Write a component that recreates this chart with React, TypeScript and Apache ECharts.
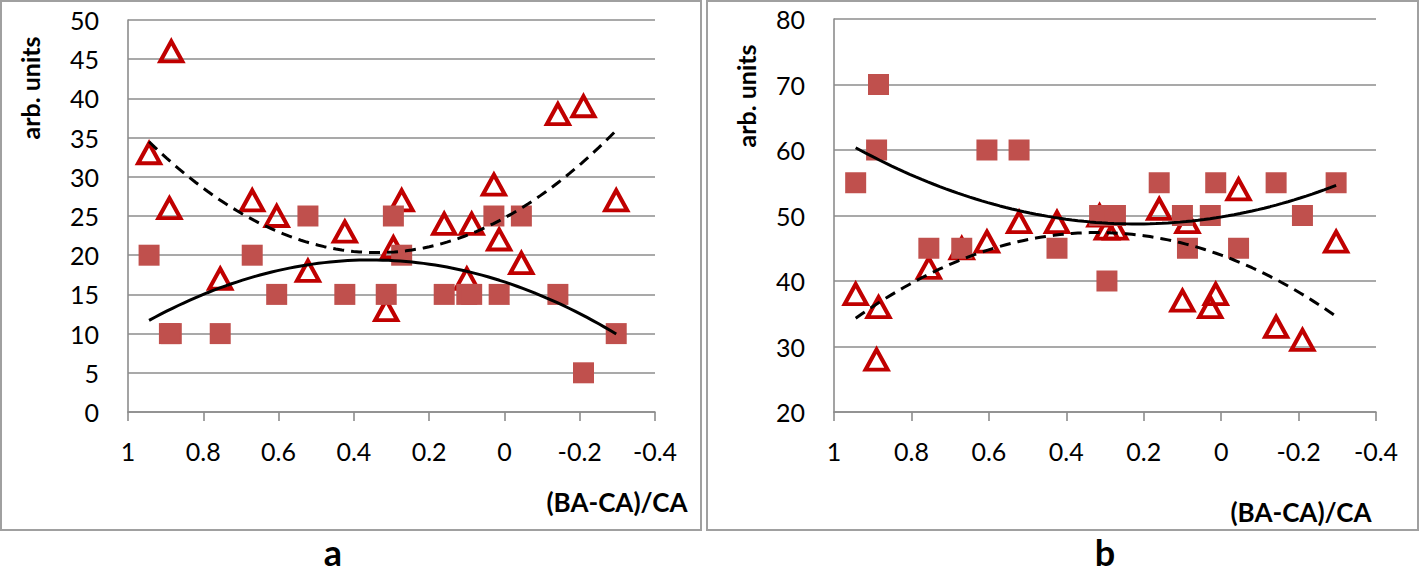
import React, { useEffect, useRef } from "react";
import * as echarts from "echarts";

// shared x values (BA-CA)/CA
const X = [0.944, 0.885, 0.89, 0.755, 0.67, 0.605, 0.522, 0.424, 0.314, 0.295, 0.273, 0.16, 0.1, 0.087, 0.028, 0.014, -0.045, -0.142, -0.21, -0.297];
// panel a
const aSquares = [20, 10, 10, 10, 20, 15, 25, 15, 15, 25, 20, 15, 15, 15, 25, 15, 25, 15, 5, 10];
const aTriangles = [33, 46, 26, 17, 27, 25, 18, 23, 13, 21, 27, 24, 17, 24, 29, 22, 19, 38, 39, 27];
// panel b
const bSquares = [55, 70, 60, 45, 45, 60, 60, 45, 50, 40, 50, 55, 50, 45, 50, 55, 45, 55, 50, 55];
const bTriangles = [38, 36, 28, 42, 45, 46, 49, 49, 50, 48, 48, 51, 37, 49, 36, 38, 54, 33, 31, 46];

const xTicks = { min: -0.4, max: 1, interval: 0.2 };
const yA = { min: 0, max: 50, interval: 5 };
const yB = { min: 20, max: 80, interval: 10 };

const FONT = "Lato";
const GRAY = "#8c8c8c";

// quadratic least-squares trendline (like Excel polynomial order 2)
function polyfit2(xs: number[], ys: number[]) {
  const n = xs.length;
  const s = [0, 0, 0, 0, 0];
  const t = [0, 0, 0];
  for (let i = 0; i < n; i++) {
    const x = xs[i];
    const y = ys[i];
    let p = 1;
    for (let k = 0; k < 5; k++) {
      s[k] += p;
      if (k < 3) t[k] += p * y;
      p *= x;
    }
  }
  const M = [
    [s[0], s[1], s[2], t[0]],
    [s[1], s[2], s[3], t[1]],
    [s[2], s[3], s[4], t[2]],
  ];
  for (let i = 0; i < 3; i++) {
    let piv = i;
    for (let r = i + 1; r < 3; r++) if (Math.abs(M[r][i]) > Math.abs(M[piv][i])) piv = r;
    [M[i], M[piv]] = [M[piv], M[i]];
    for (let r = 0; r < 3; r++) {
      if (r === i) continue;
      const f = M[r][i] / M[i][i];
      for (let c = i; c < 4; c++) M[r][c] -= f * M[i][c];
    }
  }
  return [M[0][3] / M[0][0], M[1][3] / M[1][1], M[2][3] / M[2][2]];
}

function trend(xs: number[], ys: number[]) {
  const [c0, c1, c2] = polyfit2(xs, ys);
  const lo = Math.min(...xs);
  const hi = Math.max(...xs);
  const pts: number[][] = [];
  const N = 80;
  for (let i = 0; i <= N; i++) {
    const x = hi - ((hi - lo) * i) / N;
    pts.push([x, c0 + c1 * x + c2 * x * x]);
  }
  return pts;
}

const pairs = (ys: number[]) => X.map((x, i) => [x, ys[i]]);

export default function App() {
  const ref = useRef<HTMLDivElement>(null);
  useEffect(() => {
    document.body.style.margin = "0";
    const chart = echarts.init(ref.current!, undefined, { renderer: "svg" });

    const xAxisBase = (gridIndex: number) => ({
      type: "value",
      gridIndex,
      inverse: true,
      ...xTicks,
      axisLine: { show: true, onZero: false, lineStyle: { color: GRAY, width: 1.6 } },
      axisTick: { show: true, length: 9, lineStyle: { color: GRAY, width: 1.6 } },
      splitLine: { show: false },
      axisLabel: {
        margin: 26,
        fontSize: 25,
        fontFamily: FONT,
        color: "#000",
        formatter: (v: number) => String(+v.toFixed(1)),
      },
    });
    const yAxisBase = (gridIndex: number, r: any) => ({
      type: "value",
      gridIndex,
      ...r,
      axisLine: { show: true, onZero: false, lineStyle: { color: GRAY, width: 1.6 } },
      axisTick: { show: false },
      splitLine: { show: true, lineStyle: { color: GRAY, width: 1.6 } },
      axisLabel: { margin: 29, fontSize: 25, fontFamily: FONT, color: "#000" },
    });

    const tri = (xi: number, ys: number[]) => ({
      type: "scatter",
      xAxisIndex: xi,
      yAxisIndex: xi,
      data: pairs(ys),
      symbol: "triangle",
      symbolSize: [22, 20],
      itemStyle: { color: "rgba(255,255,255,0)", borderColor: "#C00000", borderWidth: 4, opacity: 1 },
      z: 2,
    });
    const sq = (xi: number, ys: number[]) => ({
      type: "scatter",
      xAxisIndex: xi,
      yAxisIndex: xi,
      data: pairs(ys),
      symbol: "rect",
      symbolSize: 21,
      itemStyle: { color: "#C0504D", opacity: 1 },
      z: 3,
    });
    const line = (xi: number, ys: number[], dashed: boolean) => ({
      type: "line",
      xAxisIndex: xi,
      yAxisIndex: xi,
      data: trend(X, ys),
      showSymbol: false,
      symbol: "none",
      lineStyle: { color: "#000", width: 3, type: dashed ? [11, 7] : "solid" },
      z: 4,
    });

    const text = (x: number, y: number, t: string, size: number, rot = 0) => ({
      type: "text",
      x,
      y,
      rotation: rot,
      style: {
        text: t,
        fontFamily: FONT,
        fontWeight: "bold",
        fontSize: size,
        fill: "#000",
        align: "center",
        verticalAlign: "middle",
      },
    });
    const frame = (x: number, w: number) => ({
      type: "rect",
      shape: { x, y: 1, width: w, height: 529 },
      style: { fill: "none", stroke: "#a0a0a0", lineWidth: 2 },
      z: -1,
    });

    chart.setOption({
      animation: false,
      backgroundColor: "#fff",
      grid: [
        { left: 128, top: 20, width: 527, height: 392 },
        { left: 834, top: 19, width: 542, height: 393 },
      ],
      xAxis: [xAxisBase(0), xAxisBase(1)],
      yAxis: [yAxisBase(0, yA), yAxisBase(1, yB)],
      series: [
        tri(0, aTriangles),
        sq(0, aSquares),
        line(0, aSquares, false),
        line(0, aTriangles, true),
        tri(1, bTriangles),
        sq(1, bSquares),
        line(1, bSquares, false),
        line(1, bTriangles, true),
      ],
      graphic: [
        frame(1, 700),
        frame(707, 711),
        text(30, 88, "arb. units", 25, Math.PI / 2),
        text(746, 96, "arb. units", 25, Math.PI / 2),
        text(617, 502, "(BA-CA)/CA", 26),
        text(1301, 512, "(BA-CA)/CA", 26),
        text(333, 552, "a", 36),
        text(1105, 552, "b", 36),
      ],
    });
    return () => chart.dispose();
  }, []);
  return <div ref={ref} style={{ width: 1420, height: 573 }} />;
}
